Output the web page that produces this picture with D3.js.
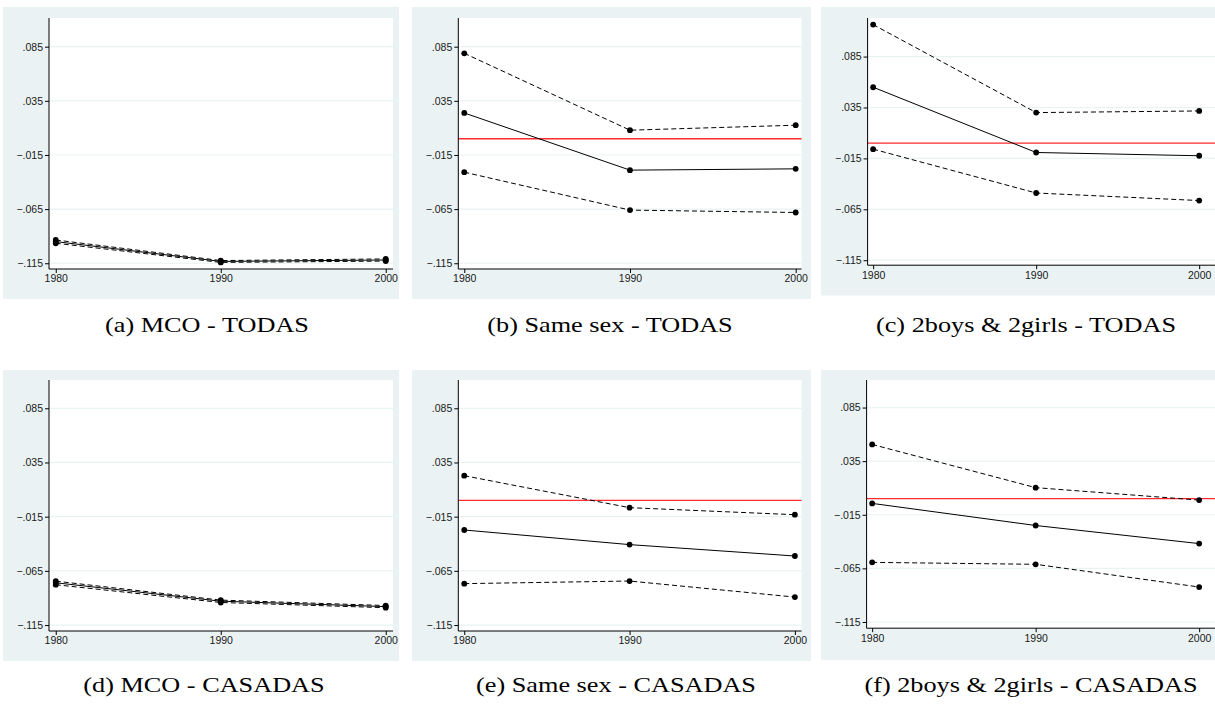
<!DOCTYPE html>
<html>
<head>
<meta charset="utf-8">
<script src="https://cdn.jsdelivr.net/npm/d3@7"></script>
<style>
  html, body { margin: 0; padding: 0; background: #ffffff; }
  svg { display: block; }
</style>
</head>
<body>
<svg id="chart" width="1215" height="704"></svg>
<script>
// ---- data -------------------------------------------------------------
const years = [1980, 1990, 2000];
const yTickValues = [-0.115, -0.065, -0.015, 0.035, 0.085];
const yTickLabels = ["\u2212.115", "\u2212.065", "\u2212.015", ".035", ".085"];
const xTickLabels = ["1980", "1990", "2000"];

const captions = [
  "(a) MCO - TODAS",
  "(b) Same sex - TODAS",
  "(c) 2boys & 2girls - TODAS",
  "(d) MCO - CASADAS",
  "(e) Same sex - CASADAS",
  "(f) 2boys & 2girls - CASADAS"
];

// coefficient with upper / lower confidence bounds, by census year
const mcoTodasUpper   = [-0.0935, -0.1125, -0.1110];
const mcoTodasCoef    = [-0.0950, -0.1133, -0.1120];
const mcoTodasLower   = [-0.0965, -0.1142, -0.1130];

const sameTodasUpper  = [0.0789, 0.0079, 0.0125];
const sameTodasCoef   = [0.0238, -0.0290, -0.0278];
const sameTodasLower  = [-0.0309, -0.0659, -0.0681];

const twoTodasUpper   = [0.1164, 0.0300, 0.0316];
const twoTodasCoef    = [0.0549, -0.0092, -0.0124];
const twoTodasLower   = [-0.0059, -0.0490, -0.0564];

const mcoCasUpper     = [-0.0745, -0.0920, -0.0970];
const mcoCasCoef      = [-0.0760, -0.0930, -0.0980];
const mcoCasLower     = [-0.0778, -0.0942, -0.0990];

const sameCasUpper    = [0.0228, -0.0067, -0.0132];
const sameCasCoef     = [-0.0273, -0.0408, -0.0513];
const sameCasLower    = [-0.0768, -0.0744, -0.0892];

const twoCasUpper     = [0.0506, 0.0103, -0.0013];
const twoCasCoef      = [-0.0044, -0.0250, -0.0419];
const twoCasLower     = [-0.0594, -0.0612, -0.0824];

const zeroLine = 0;

// ---- layout -----------------------------------------------------------
const panels = [
  { upper: mcoTodasUpper, coef: mcoTodasCoef, lower: mcoTodasLower, ref: false,
    bg: [3, 7, 399, 299], box: [49, 18, 393, 269],
    xDom: [1979.59, 2000.44], yDom: [-0.1203, 0.1115], cap: [207, 332] },
  { upper: sameTodasUpper, coef: sameTodasCoef, lower: sameTodasLower, ref: true,
    bg: [412, 7, 811, 299], box: [458.3, 18, 801.5, 269],
    xDom: [1979.64, 2000.35], yDom: [-0.1203, 0.1115], cap: [610, 332] },
  { upper: twoTodasUpper, coef: twoTodasCoef, lower: twoTodasLower, ref: true,
    bg: [821, 7, 1230, 295.5], box: [867.6, 18, 1215, 265.2],
    xDom: [1979.66, 2000.97], yDom: [-0.1199, 0.1229], cap: [1026, 332] },
  { upper: mcoCasUpper, coef: mcoCasCoef, lower: mcoCasLower, ref: false,
    bg: [3, 370, 399, 661], box: [49, 380, 393, 631],
    xDom: [1979.59, 2000.44], yDom: [-0.1205, 0.1111], cap: [204, 692] },
  { upper: sameCasUpper, coef: sameCasCoef, lower: sameCasLower, ref: true,
    bg: [412, 370, 811, 661], box: [458.3, 380, 801.5, 631],
    xDom: [1979.64, 2000.40], yDom: [-0.1205, 0.1111], cap: [616, 692] },
  { upper: twoCasUpper, coef: twoCasCoef, lower: twoCasLower, ref: true,
    bg: [821, 370, 1230, 660], box: [866.6, 380, 1215, 628.2],
    xDom: [1979.66, 2000.97], yDom: [-0.1208, 0.1107], cap: [1031, 692] }
];

const svg = d3.select("#chart");
const BG = "#eaf2f3";
const tickFont = "'Liberation Sans', Arial, sans-serif";

panels.forEach((p, i) => {
  const g = svg.append("g");
  const [bx0, by0, bx1, by1] = p.bg;
  const [px0, py0, px1, py1] = p.box;

  // outer graph region and white plot region
  g.append("rect").attr("x", bx0).attr("y", by0)
    .attr("width", bx1 - bx0).attr("height", by1 - by0).attr("fill", BG);
  g.append("rect").attr("x", px0).attr("y", py0)
    .attr("width", px1 - px0).attr("height", py1 - py0).attr("fill", "#ffffff");

  const x = d3.scaleLinear().domain(p.xDom).range([px0, px1]);
  const y = d3.scaleLinear().domain(p.yDom).range([py1, py0]);

  // horizontal grid lines
  g.append("g").selectAll("line").data(yTickValues).join("line")
    .attr("x1", px0).attr("x2", px1)
    .attr("y1", d => y(d)).attr("y2", d => y(d))
    .attr("stroke", BG).attr("stroke-width", 1.2);

  // zero reference line
  if (p.ref) {
    g.append("line")
      .attr("x1", px0).attr("x2", px1)
      .attr("y1", y(zeroLine)).attr("y2", y(zeroLine))
      .attr("stroke", "#ff2a2a").attr("stroke-width", 1.3);
  }

  // y axis
  const yAxis = d3.axisLeft(y).tickValues(yTickValues)
    .tickFormat((d, k) => yTickLabels[k]).tickSize(4).tickPadding(2).tickSizeOuter(0);
  const ya = g.append("g").attr("transform", `translate(${px0},0)`).call(yAxis);
  ya.select(".domain").remove();
  ya.append("line").attr("x1", 0).attr("x2", 0).attr("y1", py0).attr("y2", py1)
    .attr("stroke", "#000").attr("stroke-width", 1);

  // x axis
  const xAxis = d3.axisBottom(x).tickValues(years)
    .tickFormat((d, k) => xTickLabels[k]).tickSize(4).tickPadding(2).tickSizeOuter(0);
  const xa = g.append("g").attr("transform", `translate(0,${py1})`).call(xAxis);
  xa.select(".domain").remove();
  xa.append("line").attr("x1", px0).attr("x2", px1).attr("y1", 0).attr("y2", 0)
    .attr("stroke", "#000").attr("stroke-width", 1);

  [ya, xa].forEach(a => {
    a.selectAll(".tick line").attr("stroke", "#000");
    a.selectAll(".tick text").attr("fill", "#1a1a1a")
      .style("font-family", tickFont).style("font-size", "10.5px");
  });

  // series: lower/upper bounds dashed, estimate solid
  const line = d3.line().x((d, k) => x(years[k])).y(d => y(d));
  const series = [
    { vals: p.lower, dash: "5,3" },
    { vals: p.upper, dash: "5,3" },
    { vals: p.coef,  dash: null }
  ];
  series.forEach(s => {
    g.append("path").datum(s.vals)
      .attr("d", line).attr("fill", "none")
      .attr("stroke", "#000").attr("stroke-width", 1)
      .attr("stroke-dasharray", s.dash);
    g.append("g").selectAll("circle").data(s.vals).join("circle")
      .attr("cx", (d, k) => x(years[k])).attr("cy", d => y(d))
      .attr("r", 2.9).attr("fill", "#000");
  });

  // caption, set in a wide serif face
  svg.append("text")
    .attr("transform", `translate(${p.cap[0]},${p.cap[1]}) scale(1.25,1)`)
    .attr("text-anchor", "middle")
    .style("font-family", "'Liberation Serif', 'Times New Roman', serif")
    .style("font-size", "21px")
    .attr("fill", "#000")
    .text(captions[i]);
});
</script>
</body>
</html>
